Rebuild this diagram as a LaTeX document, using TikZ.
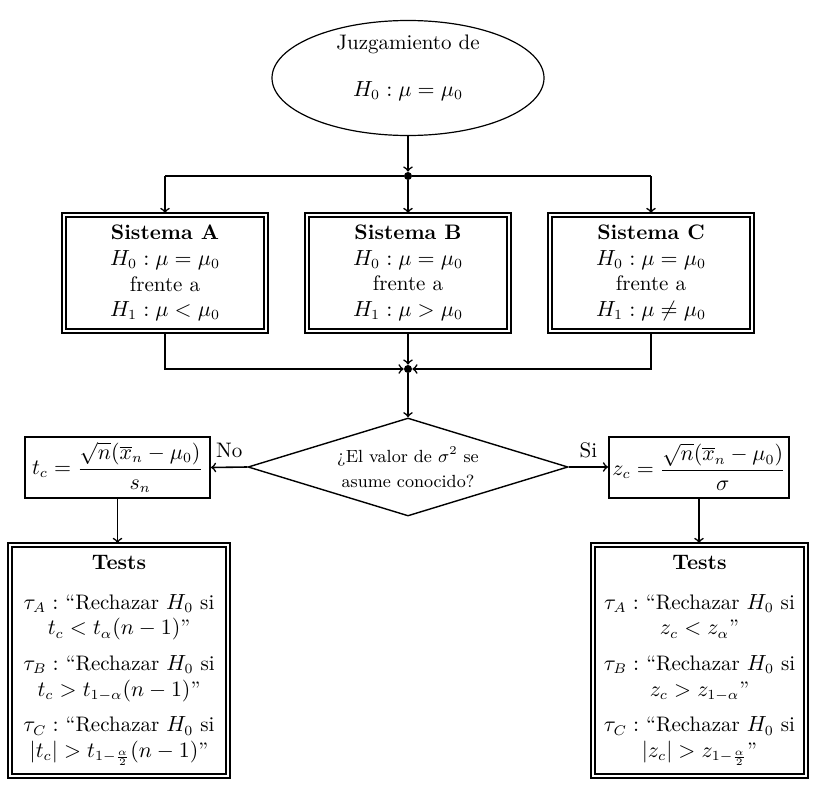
\documentclass[tikz,border=0pt]{standalone}
\usetikzlibrary{shapes.geometric}
\begin{document}
\begin{tikzpicture}[x=0.5pt,y=-0.5pt,
  every node/.style={font=\fontsize{10.5}{12.8}\selectfont},
  conn/.style={line width=0.8pt,->,>=to},
  dot/.style={circle,fill,inner sep=0pt,minimum size=4pt},
  sysbox/.style={draw,line width=1pt,minimum width=99pt,minimum height=56pt,
    inner sep=0pt,outer sep=2pt,align=center},
  testbox/.style={draw,line width=1pt,minimum height=113.5pt,
    inner sep=0pt,outer sep=2pt,align=center},
  fbox/.style={draw,line width=1pt,inner sep=1.5pt,minimum height=30.5pt},
  ask/.style={draw,line width=0.7pt,diamond,aspect=3.27,inner sep=0pt,
    minimum width=160pt,minimum height=49pt,align=center,
    font=\fontsize{8.8}{12.5}\selectfont},
  outerline/.style={line width=0.6pt}
]
\useasboundingbox (0,0) rectangle (814,787);

% top ellipse
\node[draw,ellipse,line width=0.6pt,minimum width=136pt,minimum height=57.5pt,inner sep=0pt] (judge) at (408,78) {};
\node (judgeA) at (408,44) {Juzgamiento de};
\node (judgeB) at (408,91) {$H_0:\mu=\mu_0$};

% junctions
\node[dot] (split) at (408,176) {};
\node[dot] (merge) at (408,369) {};

% the three systems
\node[sysbox] (sysA) at (165,273) {\textbf{Sistema A}\\ $H_0:\mu=\mu_0$\\ frente a\\ $H_1:\mu<\mu_0$};
\node[sysbox] (sysB) at (408,273) {\textbf{Sistema B}\\ $H_0:\mu=\mu_0$\\ frente a\\ $H_1:\mu>\mu_0$};
\node[sysbox] (sysC) at (651,273) {\textbf{Sistema C}\\ $H_0:\mu=\mu_0$\\ frente a\\ $H_1:\mu\neq\mu_0$};

% decision
\node[ask] (q) at (408,467) {¿El valor de $\sigma^2$ se\\ asume conocido?};

% statistics
\node[fbox,minimum width=92.5pt] (tstat) at (117.5,467.5)
  {$t_c=\displaystyle\frac{\sqrt{n}(\overline{x}_n-\mu_0)}{s_n}$};
\node[fbox,minimum width=90pt] (zstat) at (699,467)
  {$z_c=\displaystyle\frac{\sqrt{n}(\overline{x}_n-\mu_0)}{\sigma}$};

% tests
\node[testbox,minimum width=107pt] (testL) at (119,660.5)
  {\textbf{Tests}\\[7pt]
   $\tau_A:$ “Rechazar $H_0$ si\\ $t_c<t_\alpha(n-1)$”\\[5pt]
   $\tau_B:$ “Rechazar $H_0$ si\\ $t_c>t_{1-\alpha}(n-1)$”\\[5pt]
   $\tau_C:$ “Rechazar $H_0$ si\\ $|t_c|>t_{1-\frac{\alpha}{2}}(n-1)$”};
\node[testbox,minimum width=104.5pt] (testR) at (699.5,660.5)
  {\textbf{Tests}\\[7pt]
   $\tau_A:$ “Rechazar $H_0$ si\\ $z_c<z_\alpha$”\\[5pt]
   $\tau_B:$ “Rechazar $H_0$ si\\ $z_c>z_{1-\alpha}$”\\[5pt]
   $\tau_C:$ “Rechazar $H_0$ si\\ $|z_c|>z_{1-\frac{\alpha}{2}}$”};

% outer frames of the double boxes
\foreach \n in {sysA,sysB,sysC,testL,testR}
  \draw[outerline] (\n.south west) rectangle (\n.north east);

% connectors
\draw[conn] (judge.south) -- (split);
\draw[line width=0.8pt] (split) -- (split -| sysA.north);
\draw[line width=0.8pt] (split) -- (split -| sysC.north);
\draw[conn] (split -| sysA.north) -- (sysA.north);
\draw[conn] (split -| sysC.north) -- (sysC.north);
\draw[conn] (split) -- (sysB.north);
\draw[conn] (sysA.south) |- (merge);
\draw[conn] (sysC.south) |- (merge);
\draw[conn] (sysB.south) -- (merge);
\draw[conn] (merge) -- (q.north);
\draw[conn] (q.west) -- node[above,yshift=1pt] {No} (tstat.east);
\draw[conn] (q.east) -- node[above,yshift=1pt] {Si} (zstat.west);
\draw[conn] (tstat.south) -- (tstat.south |- testL.north);
\draw[conn] (zstat.south) -- (zstat.south |- testR.north);
\end{tikzpicture}
\end{document}
